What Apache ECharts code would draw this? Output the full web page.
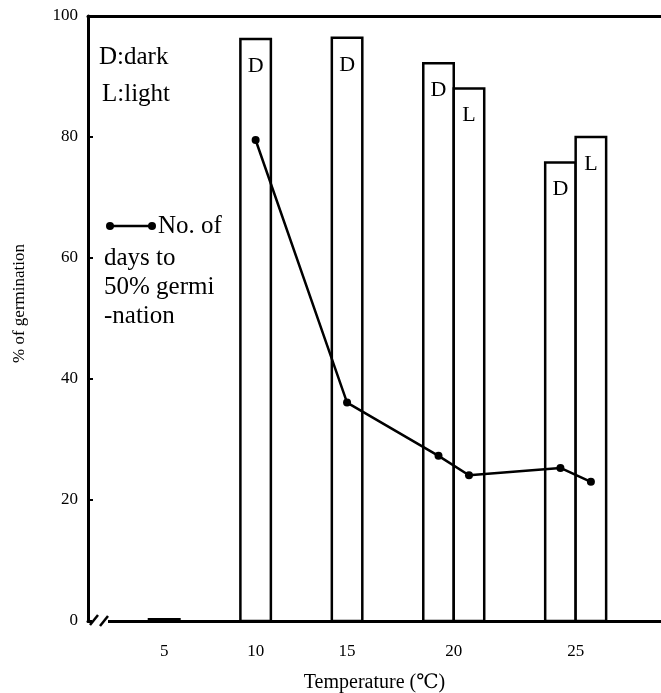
<!DOCTYPE html>
<html>
<head>
<meta charset="utf-8">
<script src="https://cdn.jsdelivr.net/npm/echarts@6/dist/echarts.min.js"></script>
<style>
html, body { margin: 0; padding: 0; background: #fff; }
#chart { width: 661px; height: 693px; }
</style>
</head>
<body>
<div id="chart"></div>
<script>
// temperature groups (℃) and % germination, D = dark, L = light
var temps = ['5', '10', '15', '20', '25'];
var dark = [0.3, 96.2, 96.4, 92.2, 75.8];
var light = [null, null, null, 88.0, 80.0];
// no. of days to 50% germination, drawn on the same scale
var daysDark = [null, 79.5, 36.1, 27.3, 25.3];
var daysLight = [null, null, null, 24.1, 23.0];

var SERIF = '"Liberation Serif", "DejaVu Serif", serif';

// lay the bars out side by side, 2 empty bar widths between groups
var bars = [], days = [], centers = [];
var cursor = 0;
for (var i = 0; i < temps.length; i++) {
	var n = 0;
	if (dark[i] != null) {
		bars.push({ value: [cursor + n + 0.5, dark[i]], tag: 'D' });
		if (daysDark[i] != null) days.push([cursor + n + 0.5, daysDark[i]]);
		n++;
	}
	if (light[i] != null) {
		bars.push({ value: [cursor + n + 0.5, light[i]], tag: 'L' });
		if (daysLight[i] != null) days.push([cursor + n + 0.5, daysLight[i]]);
		n++;
	}
	centers.push(cursor + n / 2);
	cursor += n + 2;
}

function keyText(str, x, y) {
	return {
		type: 'text', z: 100,
		style: { text: str, x: x, y: y, verticalAlign: 'middle', font: '25px ' + SERIF, fill: '#000' }
	};
}

var myChart = echarts.init(document.getElementById('chart'));

var option = {
	animation: false,
	backgroundColor: '#fff',
	grid: { left: 88, right: 0, top: 16, bottom: 72, outerBoundsMode: 'none', containLabel: false },
	xAxis: [{
		type: 'value',
		min: -2,
		max: 16.8,
		name: 'Temperature (℃)',
		nameLocation: 'middle',
		nameGap: 52,
		nameTextStyle: { fontFamily: SERIF, fontSize: 20, color: '#000' },
		axisLine: { lineStyle: { color: '#000', width: 3 } },
		axisTick: { show: false },
		splitLine: { show: false },
		axisLabel: {
			customValues: centers,
			margin: 22,
			fontFamily: SERIF,
			fontSize: 17,
			color: '#000',
			formatter: function (v) {
				var k = centers.indexOf(v);
				return k >= 0 ? temps[k] : '';
			}
		}
	}, {
		// top frame line
		type: 'value',
		position: 'top',
		min: -2,
		max: 16.8,
		axisLine: { show: true, lineStyle: { color: '#000', width: 3 } },
		axisTick: { show: false },
		axisLabel: { show: false },
		splitLine: { show: false }
	}],
	yAxis: {
		type: 'value',
		min: 0,
		max: 100,
		interval: 20,
		name: '% of germination',
		nameLocation: 'middle',
		nameGap: 60,
		nameTextStyle: { fontFamily: SERIF, fontSize: 17, color: '#000', padding: [0, 0, 0, 30] },
		axisLine: { show: true, onZero: false, lineStyle: { color: '#000', width: 3 } },
		axisTick: { show: true, inside: true, length: 5, lineStyle: { color: '#000', width: 2 } },
		splitLine: { show: false },
		axisLabel: { margin: 10, fontFamily: SERIF, fontSize: 17, color: '#000' }
	},
	series: [{
		type: 'custom',
		name: 'germination',
		xAxisIndex: 0,
		data: bars,
		encode: { x: 0, y: 1 },
		z: 2,
		renderItem: function (params, api) {
			var x = api.value(0), y = api.value(1);
			var p0 = api.coord([x - 0.5, y]);
			var p1 = api.coord([x + 0.5, 0]);
			var children = [{
				type: 'rect',
				shape: { x: p0[0], y: p0[1], width: p1[0] - p0[0], height: p1[1] - p0[1] },
				style: { fill: '#fff', stroke: '#000', lineWidth: 2.5 }
			}];
			if (y > 10) {
				children.push({
					type: 'text',
					style: {
						text: bars[params.dataIndex].tag,
						x: (p0[0] + p1[0]) / 2,
						y: p0[1] + 16,
						align: 'center',
						verticalAlign: 'top',
						font: '22px ' + SERIF,
						fill: '#000'
					}
				});
			}
			return { type: 'group', children: children };
		}
	}, {
		type: 'line',
		name: 'No. of days to 50% germination',
		xAxisIndex: 0,
		data: days,
		z: 5,
		symbol: 'circle',
		symbolSize: 8,
		itemStyle: { color: '#000' },
		lineStyle: { color: '#000', width: 2.5 }
	}],
	graphic: [
		// axis break
		{ type: 'rect', shape: { x: 92, y: 617, width: 16, height: 8 }, style: { fill: '#fff' }, z: 100 },
		{ type: 'line', shape: { x1: 90, y1: 625, x2: 98, y2: 615 }, style: { stroke: '#000', lineWidth: 2.5 }, z: 101 },
		{ type: 'line', shape: { x1: 100, y1: 626, x2: 108, y2: 616 }, style: { stroke: '#000', lineWidth: 2.5 }, z: 101 },
		// key
		keyText('D:dark', 99, 57),
		keyText('L:light', 102, 94),
		{ type: 'line', shape: { x1: 110, y1: 226, x2: 152, y2: 226 }, style: { stroke: '#000', lineWidth: 2.5 }, z: 100 },
		{ type: 'circle', shape: { cx: 110, cy: 226, r: 4 }, style: { fill: '#000' }, z: 100 },
		{ type: 'circle', shape: { cx: 152, cy: 226, r: 4 }, style: { fill: '#000' }, z: 100 },
		keyText('No. of', 158, 226),
		keyText('days to', 104, 258),
		keyText('50% germi', 104, 287),
		keyText('-nation', 104, 316)
	]
};

myChart.setOption(option);
</script>
</body>
</html>
